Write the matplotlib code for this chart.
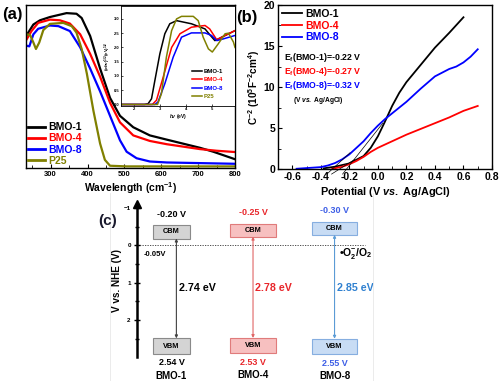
import matplotlib
matplotlib.use('Agg')
import matplotlib.pyplot as plt
from matplotlib.patches import Rectangle
from matplotlib.lines import Line2D
from matplotlib.ticker import MultipleLocator

plt.rcParams.update({
    'font.family': 'Liberation Sans',
    'font.weight': 'bold',
    'axes.labelweight': 'bold',
    'mathtext.fontset': 'custom',
    'mathtext.rm': 'Liberation Sans:bold',
    'mathtext.it': 'Liberation Sans:italic:bold',
    'mathtext.bf': 'Liberation Sans:bold',
    'mathtext.default': 'rm',
    'axes.linewidth': 1.0,
})

names = ['BMO-1', 'BMO-4', 'BMO-8']
colors = ['black', '#ff0000', '#0000ff']
p25_color = '#808000'

# ---- (a) UV-vis absorbance (arb. units)
wl_bmo1 = [235, 253, 271, 298, 343, 370, 384, 407, 434, 461, 488, 524, 569, 615, 705, 741, 800]
ab_bmo1 = [0.816, 0.88, 0.906, 0.926, 0.95, 0.946, 0.92, 0.81, 0.61, 0.43, 0.32, 0.25, 0.20, 0.174, 0.124, 0.10, 0.054]
wl_bmo4 = [235, 248, 266, 298, 325, 352, 380, 407, 434, 461, 488, 524, 569, 615, 705, 750, 800]
ab_bmo4 = [0.79, 0.84, 0.89, 0.91, 0.906, 0.886, 0.82, 0.70, 0.56, 0.40, 0.28, 0.20, 0.166, 0.146, 0.116, 0.106, 0.098]
wl_bmo8 = [235, 242, 253, 266, 298, 321, 352, 380, 407, 434, 461, 488, 506, 533, 569, 615, 800]
ab_bmo8 = [0.75, 0.746, 0.82, 0.854, 0.874, 0.87, 0.84, 0.74, 0.61, 0.47, 0.32, 0.17, 0.10, 0.06, 0.04, 0.034, 0.026]
wl_p25 = [235, 244, 253, 260, 269, 280, 298, 334, 357, 370, 384, 398, 416, 434, 447, 461, 506, 800]
ab_p25 = [0.82, 0.816, 0.77, 0.73, 0.77, 0.846, 0.884, 0.89, 0.87, 0.83, 0.73, 0.58, 0.35, 0.15, 0.05, 0.014, 0.01, 0.01]

# ---- (a) inset Tauc plot
ev_bmo1 = [1.5, 2.4, 2.54, 2.67, 2.8, 2.99, 3.18, 3.37, 3.63, 4.2, 4.72, 4.9, 5.1, 5.36, 5.87]
tc_bmo1 = [0, 0, 0.03, 0.2, 0.85, 1.78, 2.48, 2.83, 2.94, 2.83, 2.65, 2.45, 2.24, 2.36, 2.59]
ev_bmo4 = [1.5, 2.7, 2.86, 3.12, 3.44, 3.76, 4.2, 4.72, 4.9, 5.17, 5.49, 5.87]
tc_bmo4 = [0, 0, 0.15, 0.97, 2.0, 2.48, 2.71, 2.77, 2.65, 2.27, 2.42, 2.59]
ev_bmo8 = [1.5, 2.8, 2.92, 3.18, 3.5, 3.82, 4.2, 4.72, 4.97, 5.17, 5.42, 5.87]
tc_bmo8 = [0, 0, 0.09, 0.73, 1.66, 2.36, 2.51, 2.51, 2.42, 2.24, 2.3, 2.42]
ev_p25 = [1.5, 2.9, 3.05, 3.24, 3.44, 3.63, 3.82, 4.27, 4.46, 4.65, 4.85, 5.0, 5.23, 5.49, 5.62, 5.81, 5.87]
tc_p25 = [0, 0, 0.38, 1.66, 2.59, 3.0, 3.09, 3.09, 2.94, 2.36, 1.95, 1.84, 2.13, 2.48, 2.5, 2.19, 2.0]

# ---- (b) Mott-Schottky
v_bmo1 = [-0.38, -0.3, -0.2, -0.1, -0.05, 0.0, 0.05, 0.1, 0.15, 0.2, 0.3, 0.4, 0.5, 0.6]
c_bmo1 = [0.1, 0.3, 0.7, 1.6, 2.6, 4.0, 5.8, 7.7, 9.3, 10.6, 12.7, 14.8, 16.6, 18.5]
v_bmo4 = [-0.32, -0.25, -0.2, -0.15, -0.1, -0.05, 0.0, 0.05, 0.1, 0.2, 0.3, 0.4, 0.5, 0.6, 0.7]
c_bmo4 = [0.05, 0.3, 0.6, 1.0, 1.5, 2.1, 2.6, 3.0, 3.4, 4.2, 4.9, 5.6, 6.3, 7.1, 7.7]
v_bmo8 = [-0.57, -0.4, -0.35, -0.3, -0.25, -0.2, -0.15, -0.1, -0.05, 0.0, 0.05, 0.1, 0.2, 0.3, 0.4, 0.5, 0.55, 0.6, 0.65, 0.7]
c_bmo8 = [0.05, 0.25, 0.45, 0.75, 1.2, 1.8, 2.6, 3.4, 4.4, 5.3, 6.1, 6.8, 8.2, 9.8, 11.3, 12.2, 12.5, 13.0, 13.7, 14.6]
e_flat = [-0.22, -0.27, -0.32]
tangent_slope = [22, 11, 16]
tangent_top = [5.6, 1.2, 2.0]

# ---- (c) band positions (V vs. NHE)
cbm = [-0.20, -0.25, -0.30]
vbm = [2.54, 2.53, 2.55]
gaps = [2.74, 2.78, 2.85]

fig = plt.figure(figsize=(5, 3.81), dpi=100)

# ================= (a)
ax_a = fig.add_axes([0.052, 0.559, 0.418, 0.428])
ax_a.plot(wl_bmo1, ab_bmo1, color=colors[0], lw=1.6, label='BMO-1')
ax_a.plot(wl_bmo4, ab_bmo4, color=colors[1], lw=1.6, label='BMO-4')
ax_a.plot(wl_bmo8, ab_bmo8, color=colors[2], lw=1.6, label='BMO-8')
ax_a.plot(wl_p25, ab_p25, color=p25_color, lw=1.6, label='P25')
ax_a.set_xlim(233, 800)
ax_a.set_ylim(0, 1.0)
ax_a.set_yticks([])
ax_a.xaxis.set_major_locator(MultipleLocator(100))
ax_a.xaxis.set_minor_locator(MultipleLocator(50))
ax_a.tick_params(axis='x', which='both', direction='in', labelsize=5.5, pad=2)
ax_a.tick_params(axis='x', which='major', length=3)
ax_a.tick_params(axis='x', which='minor', length=2)
ax_a.set_xticks([300, 400, 500, 600, 700, 800])
ax_a.set_xlabel('Wavelength (cm$^{-1}$)', fontsize=7.5, labelpad=2)
leg = ax_a.legend(loc='lower left', bbox_to_anchor=(0.0, 0.0), frameon=False, fontsize=7.5,
                  handlelength=1.6, handletextpad=0.3, labelspacing=0.12, borderpad=0.15,
                  borderaxespad=0.05)
for t, c in zip(leg.get_texts(), colors + [p25_color]):
    t.set_color(c)
for h in leg.get_lines():
    h.set_linewidth(2)

# inset
ax_in = fig.add_axes([0.242, 0.722, 0.228, 0.262])
ax_in.plot(ev_bmo1, tc_bmo1, color=colors[0], lw=1.1, label='BMO-1')
ax_in.plot(ev_bmo4, tc_bmo4, color=colors[1], lw=1.1, label='BMO-4')
ax_in.plot(ev_bmo8, tc_bmo8, color=colors[2], lw=1.1, label='BMO-8')
ax_in.plot(ev_p25, tc_p25, color=p25_color, lw=1.1, label='P25')
ax_in.set_xlim(1.5, 5.87)
ax_in.set_ylim(-0.05, 3.45)
ax_in.set_xticks([2, 3, 4, 5])
ax_in.set_yticks([0, 0.5, 1.0, 1.5, 2.0, 2.5, 3.0])
ax_in.set_yticklabels(['0.0', '0.5', '1.0', '1.5', '2.0', '2.5', '3.0'])
ax_in.tick_params(which='both', direction='in', labelsize=3, length=1.5, pad=1, width=0.5)
for s in ax_in.spines.values():
    s.set_linewidth(0.6)
ax_in.set_xlabel(r'$\mathit{h\nu}$ (eV)', fontsize=3.5, labelpad=0.5)
ax_in.set_ylabel(r'($\mathit{\alpha h\nu}$)$^{1/2}$(eV)$^{1/2}$', fontsize=3.2, labelpad=0.8)
leg_in = ax_in.legend(loc='lower right', bbox_to_anchor=(0.93, 0.03), frameon=False, fontsize=4.3,
                      handlelength=1.7, handletextpad=0.3, labelspacing=0.55, borderpad=0.1)
for t, c in zip(leg_in.get_texts(), colors + [p25_color]):
    t.set_color(c)

fig.text(0.004, 0.961, '(a)', fontsize=12, va='center', ha='left')

# ================= (b)
ax_b = fig.add_axes([0.556, 0.556, 0.428, 0.431])
ax_b.plot(v_bmo1, c_bmo1, color=colors[0], lw=1.3, label='BMO-1')
ax_b.plot(v_bmo4, c_bmo4, color=colors[1], lw=1.3, label='BMO-4')
ax_b.plot(v_bmo8, c_bmo8, color=colors[2], lw=1.3, label='BMO-8')
for ef, s, top in zip(e_flat, tangent_slope, tangent_top):
    ax_b.plot([ef - 0.6 / s, ef + top / s], [-0.6, top], color='black', lw=0.5, clip_on=False)
ax_b.set_xlim(-0.7, 0.8)
ax_b.set_ylim(0, 20)
ax_b.xaxis.set_major_locator(MultipleLocator(0.2))
ax_b.xaxis.set_minor_locator(MultipleLocator(0.1))
ax_b.yaxis.set_major_locator(MultipleLocator(5))
ax_b.yaxis.set_minor_locator(MultipleLocator(2.5))
ax_b.tick_params(which='both', direction='in', labelsize=7.5, pad=2)
ax_b.tick_params(which='major', length=3)
ax_b.tick_params(which='minor', length=2)
ax_b.set_xticks([-0.6, -0.4, -0.2, 0.0, 0.2, 0.4, 0.6, 0.8])
ax_b.set_xticklabels(['-0.6', '-0.4', '-0.2', '0.0', '0.2', '0.4', '0.6', '0.8'])
ax_b.set_xlabel(r'Potential (V $\mathit{vs.}$ Ag/AgCl)', fontsize=7.8, labelpad=2)
ax_b.set_ylabel('C$^{-2}$ (10$^{5}$F$^{-2}$cm$^{4}$)', fontsize=7.2, labelpad=1.5)
leg_b = ax_b.legend(loc='upper left', bbox_to_anchor=(0.0, 1.0), frameon=False, fontsize=7.5,
                    handlelength=1.9, handletextpad=0.3, labelspacing=0.15, borderpad=0.3,
                    borderaxespad=0.1)
for t, c in zip(leg_b.get_texts(), colors):
    t.set_color(c)
for i, (n, ef, c) in enumerate(zip(names, e_flat, colors)):
    ax_b.text(0.03, 0.68 - i * 0.085, f'E$_f$({n})={ef:.2f} V', transform=ax_b.transAxes,
              fontsize=6.3, color=c, va='center', ha='left')
ax_b.text(0.07, 0.42, r'(V $\mathit{vs.}$ Ag/AgCl)', transform=ax_b.transAxes,
          fontsize=4.8, va='center', ha='left')
fig.text(0.472, 0.953, '(b)', fontsize=12, va='center', ha='left')

# ================= (c)
ax_c = fig.add_axes([0.274, 0.055, 0.55, 0.42])
ax_c.set_xlim(-0.423, 2.95)
ax_c.set_ylim(3.07, -1.21)
for side in ['top', 'right', 'bottom']:
    ax_c.spines[side].set_visible(False)
ax_c.spines['left'].set_linewidth(1.8)
ax_c.spines['left'].set_bounds(-1.05, 3.0)
ax_c.plot([0], [-1.1], marker='^', ms=6, color='black', transform=ax_c.get_yaxis_transform(),
          clip_on=False)
ax_c.set_xticks([])
ax_c.set_yticks([-1, 0, 1, 2])
ax_c.set_yticks([-0.5, 0.5, 1.5, 2.5], minor=True)
ax_c.tick_params(axis='y', which='major', direction='inout', length=5, width=1, labelsize=4.5, pad=2)
ax_c.tick_params(axis='y', which='minor', direction='inout', length=3.5, width=1)
ax_c.set_ylabel('V vs. NHE (V)', fontsize=7.2, labelpad=1)

box_w = [0.45, 0.56, 0.56]
box_face = ['#d4d4d4', '#f7c0c0', '#c8dcf4']
box_edge = ['#8a8a8a', '#e07b7b', '#86aee0']
arrow_col = ['#404040', '#e06666', '#5b9bd5']
text_col = ['black', '#e8262b', '#3d5ee6']
gap_col = ['black', '#e8262b', '#2f80d0']
arrow_x = [0.06, 1.0, 2.0]
for i in range(3):
    w = box_w[i]
    ax_c.add_patch(Rectangle((i - w / 2, cbm[i] + 0.02), w, -0.35, facecolor=box_face[i],
                             edgecolor=box_edge[i], lw=0.8))
    ax_c.add_patch(Rectangle((i - w / 2, vbm[i] - 0.05), w, 0.41, facecolor=box_face[i],
                             edgecolor=box_edge[i], lw=0.8))
    ax_c.text(i, cbm[i] - 0.155, 'CBM', fontsize=5.3, ha='center', va='center')
    ax_c.text(i, vbm[i] + 0.155, 'VBM', fontsize=5.3, ha='center', va='center')
    ax_c.annotate('', xy=(arrow_x[i], vbm[i] - 0.05), xytext=(arrow_x[i], cbm[i] + 0.02),
                  arrowprops=dict(arrowstyle='<|-|>', color=arrow_col[i], lw=0.8,
                                  mutation_scale=4, shrinkA=0, shrinkB=0))
    ax_c.text(i, cbm[i] - 0.62, f'{cbm[i]:.2f} V', fontsize=6.5, ha='center', va='center',
              color=text_col[i])
    ax_c.text(i, vbm[i] + 0.6, f'{vbm[i]:.2f} V', fontsize=6.5, ha='center', va='center',
              color=text_col[i], clip_on=False)
    ax_c.text(i, vbm[i] + 0.95, names[i], fontsize=7, ha='center', va='center', clip_on=False)
    ax_c.text(arrow_x[i] + 0.03, 1.15, f'{gaps[i]:.2f} eV', fontsize=7.7, ha='left', va='center',
              color=gap_col[i])

ax_c.plot([-0.423, 2.37], [0, 0], ls=(0, (1.5, 1.5)), color='#333333', lw=0.6)
ax_c.text(-0.2, 0.24, '-0.05V', fontsize=5.5, ha='center', va='center')
ax_c.text(2.06, 0.22, '•O$_2^{-}$/O$_2$', fontsize=7.5, ha='left', va='center')

fig.text(107.5 / 500, 1 - 220.5 / 381, '(c)', fontsize=11, ha='center', va='center', color='#1a1a2e')

# faint frame lines of the inserted scheme
fig.add_artist(Line2D([110 / 500, 110 / 500], [0, 1 - 193 / 381], color='#e8e8e8', lw=0.6))
fig.add_artist(Line2D([373 / 500, 373 / 500], [0, 1 - 193 / 381], color='#e8e8e8', lw=0.6))

fig.savefig('out.png', dpi=100)
